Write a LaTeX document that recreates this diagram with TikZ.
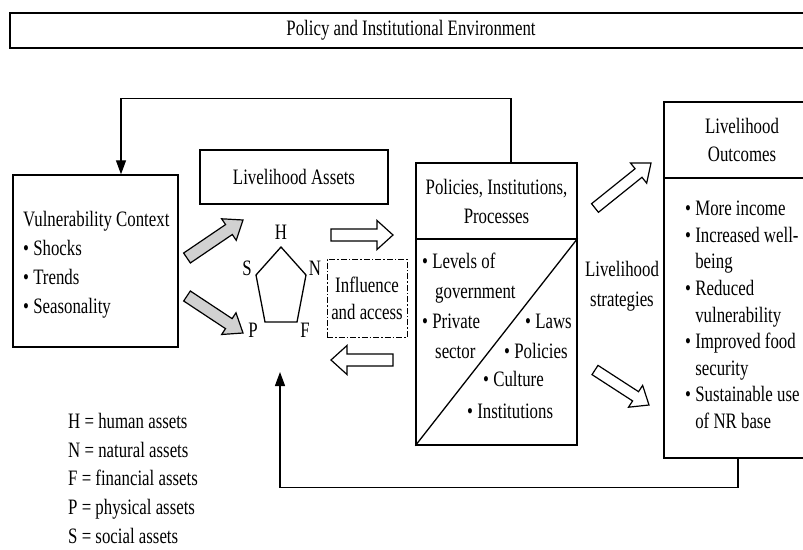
\documentclass[tikz,border=0pt]{standalone}
\usepackage{fontspec}
\setmainfont{Liberation Serif}[FakeStretch=0.765]
\usetikzlibrary{calc,arrows.meta}
% block arrow: #1 style, #2 name, #3 tail, #4 tip, #5 shaft half width, #6 head half width, #7 head length
\newcommand{\blockarr}[7]{%
  \coordinate (#2-t) at (#3);
  \coordinate (#2-h) at (#4);
  \coordinate (#2-n) at ($(#2-h)!#7!(#2-t)$);
  \draw[#1] ($(#2-t)!#5!90:(#2-h)$) -- ($(#2-n)!#5!90:(#2-h)$) -- ($(#2-n)!#6!90:(#2-h)$)
    -- (#2-h) -- ($(#2-n)!#6!-90:(#2-h)$) -- ($(#2-n)!#5!-90:(#2-h)$) -- ($(#2-t)!#5!-90:(#2-h)$) -- cycle;
}
\begin{document}
\begin{tikzpicture}[x=1pt,y=-1pt,
  every node/.style={font=\fontsize{22}{28}\selectfont, inner sep=0pt},
  box/.style={draw, line width=1.4pt},
  conn/.style={line width=1.3pt, -{Triangle[length=14pt,width=10pt]}},
  garrow/.style={draw, line width=1.2pt, fill=black!18, line join=miter},
  warrow/.style={draw, line width=1.2pt, fill=white, line join=miter},
  lbl/.style={anchor=base west}
]
\useasboundingbox (0,0) rectangle (803,549);

% top band
\node[box, minimum width=802pt, minimum height=35pt] (pie) at (411,30.5) {Policy and Institutional Environment};

% vulnerability context
\node[box, minimum width=165pt, minimum height=172pt] (vul) at (95.5,261) {};
\node[anchor=north west, align=left, font=\fontsize{22}{29}\selectfont] (vultxt) at (23,211)
  {Vulnerability Context\\\textbullet\ Shocks\\\textbullet\ Trends\\\textbullet\ Seasonality};

% livelihood assets
\node[box, minimum width=188pt, minimum height=54pt] (la) at (294,177) {Livelihood Assets};

% pentagon
\coordinate (pH) at (281,247);
\coordinate (pN) at (306,275);
\coordinate (pF) at (297,322);
\coordinate (pP) at (265,322);
\coordinate (pS) at (256,275);
\draw[line width=1.3pt, line join=miter] (pH) -- (pN) -- (pF) -- (pP) -- (pS) -- cycle;
\node (lH) at (281,232) {H};
\node (lN) at (315,268) {N};
\node (lF) at (305,330) {F};
\node (lP) at (253,330) {P};
\node (lS) at (247,268) {S};

% influence and access
\node[draw, line width=1pt, dash pattern=on 6pt off 2pt on 1.5pt off 2pt,
      minimum width=80pt, minimum height=78pt, align=center, font=\fontsize{22}{27}\selectfont]
  (inf) at (367,298) {Influence\\and access};

% policies, institutions, processes
\node[box, minimum width=161pt, minimum height=76pt, align=center, font=\fontsize{22}{29}\selectfont]
  (piph) at (496.5,201) {Policies, Institutions,\\Processes};
\node[box, minimum width=161pt, minimum height=206pt] (pipl) at (496.5,342) {};
\draw[line width=1.3pt] (pipl.south west) -- (pipl.north east);
\node[lbl] (lv) at (422,268) {\textbullet\ Levels of};
\node[lbl] (gv) at (435,298) {government};
\node[lbl] (pr) at (422,328) {\textbullet\ Private};
\node[lbl] (se) at (435,358) {sector};
\node[lbl] (law) at (525,328) {\textbullet\ Laws};
\node[lbl] (pol) at (504,358) {\textbullet\ Policies};
\node[lbl] (cul) at (483,386) {\textbullet\ Culture};
\node[lbl] (ins) at (467,418) {\textbullet\ Institutions};

% livelihood strategies
\node[align=center, font=\fontsize{22}{30}\selectfont] (ls) at (622,286) {Livelihood\\strategies};

% livelihood outcomes
\node[box, minimum width=156pt, minimum height=76pt, align=center] (loh) at (742,140) {Livelihood\\Outcomes};
\node[box, minimum width=156pt, minimum height=280pt] (lol) at (742,318) {};
\node[anchor=north west, align=left, font=\fontsize{22}{26.6}\selectfont] (lotxt) at (685,201)
  {\textbullet\ More income\\
   \textbullet\ Increased well-\\
   \hphantom{\textbullet\ }being\\
   \textbullet\ Reduced\\
   \hphantom{\textbullet\ }vulnerability\\
   \textbullet\ Improved food\\
   \hphantom{\textbullet\ }security\\
   \textbullet\ Sustainable use\\
   \hphantom{\textbullet\ }of NR base};

% legend
\node[anchor=north west, align=left, font=\fontsize{22}{28.7}\selectfont] (leg) at (68,413)
  {H = human assets\\N = natural assets\\F = financial assets\\P = physical assets\\S = social assets};

% feedback connectors
\coordinate (pipTop) at ($(piph.north)+(14.5,0)$);
\coordinate (vulTop) at ($(vul.north)+(25.5,0)$);
\draw[conn] (pipTop) -- ++(0,-64) -| (vulTop);
\coordinate (loBot) at ($(lol.south)+(-4,0)$);
\coordinate (pentArr) at (280,372);
\draw[conn] (loBot) -- ++(0,29) -| (pentArr);

% block arrows
\blockarr{garrow}{g1}{187,258}{243,220}{6pt}{13pt}{17pt}
\blockarr{garrow}{g2}{187,296}{243,333}{6pt}{13pt}{17pt}
\blockarr{warrow}{w1}{331,235}{393,235}{6pt}{14.5pt}{16pt}
\blockarr{warrow}{w2}{393,360}{331,360}{6pt}{14.5pt}{16pt}
\blockarr{warrow}{w3}{595,208}{651,163}{5.5pt}{13pt}{16pt}
\blockarr{warrow}{w4}{595,370}{649,405}{5.5pt}{13pt}{16pt}
\end{tikzpicture}
\end{document}
